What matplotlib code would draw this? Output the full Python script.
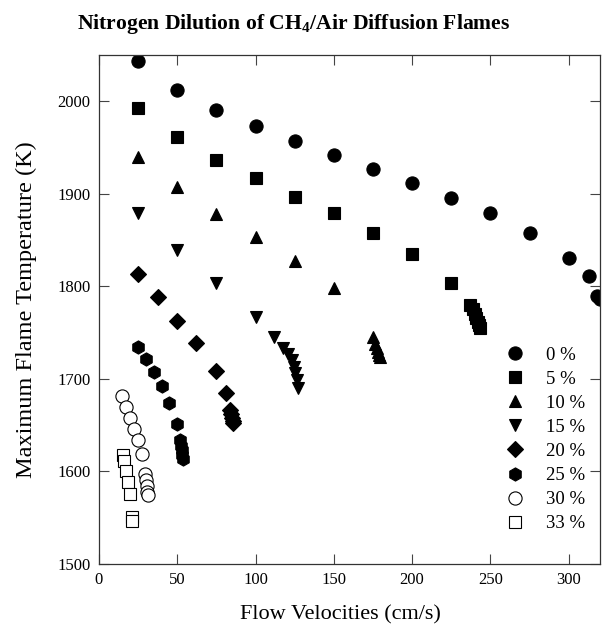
import numpy as np
import matplotlib
matplotlib.use('Agg')
import matplotlib.pyplot as plt

plt.rcParams['font.family'] = ['Liberation Serif', 'DejaVu Serif']
plt.rcParams['mathtext.fontset'] = 'custom'
plt.rcParams['mathtext.rm'] = 'Liberation Serif'
plt.rcParams['mathtext.bf'] = 'Liberation Serif:bold'

# flow velocity (cm/s) and peak temperature (K) for each N2 dilution level
v_0 = [25, 50, 75, 100, 125, 150, 175, 200, 225, 250, 275, 300, 313, 318, 320]
t_0 = [2043, 2012, 1991, 1973, 1957, 1942, 1927, 1912, 1896, 1879, 1858, 1831, 1811, 1790, 1786]

v_5 = [25, 50, 75, 100, 125, 150, 175, 200, 225, 237, 239, 240, 241, 242, 243, 243.5]
t_5 = [1993, 1961, 1937, 1917, 1897, 1879, 1858, 1835, 1804, 1780, 1775, 1770, 1766, 1762, 1758, 1755]

v_10 = [25, 50, 75, 100, 125, 150, 175, 176.5, 177.5, 178.5, 179, 179.5]
t_10 = [1940, 1907, 1878, 1853, 1827, 1798, 1745, 1738, 1733, 1729, 1726, 1724]

v_15 = [25, 50, 75, 100, 112, 117.5, 121, 123, 124.5, 125.5, 126.5, 127.2]
t_15 = [1879, 1839, 1804, 1767, 1745, 1733, 1727, 1720, 1713, 1706, 1699, 1690]

v_20 = [25, 37.5, 50, 62, 74.5, 81.3, 84, 84.5, 85, 85.3, 85.6]
t_20 = [1813, 1788, 1763, 1739, 1708, 1685, 1666, 1662, 1658, 1655, 1652]

v_25 = [25, 30, 35, 40, 45, 50, 52, 52.5, 53, 53.3, 53.6]
t_25 = [1735, 1721, 1707, 1692, 1674, 1651, 1634, 1628, 1623, 1618, 1613]

v_30 = [14.7, 17.3, 19.9, 22.4, 25, 27.5, 29.7, 30, 30.5, 31, 31.2]
t_30 = [1682, 1670, 1658, 1646, 1634, 1619, 1597, 1591, 1584, 1578, 1575]

v_33 = [15.1, 16, 17.3, 18.6, 19.9, 21.1, 21.1]
t_33 = [1618, 1611, 1601, 1589, 1576, 1551, 1546]

labels = ['0 %', '5 %', '10 %', '15 %', '20 %', '25 %', '30 %', '33 %']
series = [(v_0, t_0), (v_5, t_5), (v_10, t_10), (v_15, t_15),
          (v_20, t_20), (v_25, t_25), (v_30, t_30), (v_33, t_33)]
markers = ['o', 's', '^', 'v', 'D', 'h', 'o', 's']
sizes = [9.5, 8.5, 9, 9, 8, 9.5, 9.5, 8.5]
faces = ['black'] * 6 + ['white'] * 2

fig = plt.figure(figsize=(6.07, 6.38), dpi=100)
ax = fig.add_axes([0.163, 0.116, 0.8255, 0.7978])

for (v, t), m, ms, fc, lab in zip(series, markers, sizes, faces, labels):
    ax.plot(v, t, linestyle='none', marker=m, markersize=ms,
            markerfacecolor=fc, markeredgecolor='black', markeredgewidth=0.8,
            label=lab)

ax.set_xlim(0, 320)
ax.set_ylim(1500, 2050)
ax.set_xticks(np.arange(0, 301, 50))
ax.set_yticks(np.arange(1500, 2001, 100))
ax.tick_params(direction='in', length=7, width=0.8, top=True, right=True,
               labelsize=12, color='#444444', pad=6)
for s in ax.spines.values():
    s.set_linewidth(0.9)
    s.set_color('#333333')

ax.set_xlabel('Flow Velocities (cm/s)', fontsize=16)
ax.xaxis.set_label_coords(0.482, -0.081)
ax.set_ylabel('Maximum Flame Temperature (K)', fontsize=17.5, labelpad=15)

fig.text(0.483, 0.962, r'Nitrogen Dilution of CH$_\mathbf{4}$/Air Diffusion Flames',
         ha='center', va='center', fontsize=15.6, fontweight='bold')

ax.legend(loc='upper left', bbox_to_anchor=(0.8116, 0.427), frameon=False,
          numpoints=1, fontsize=13.5, handlelength=1.0, handletextpad=1.15,
          labelspacing=0.37, borderpad=0, borderaxespad=0)

fig.savefig('out.png', dpi=100)
